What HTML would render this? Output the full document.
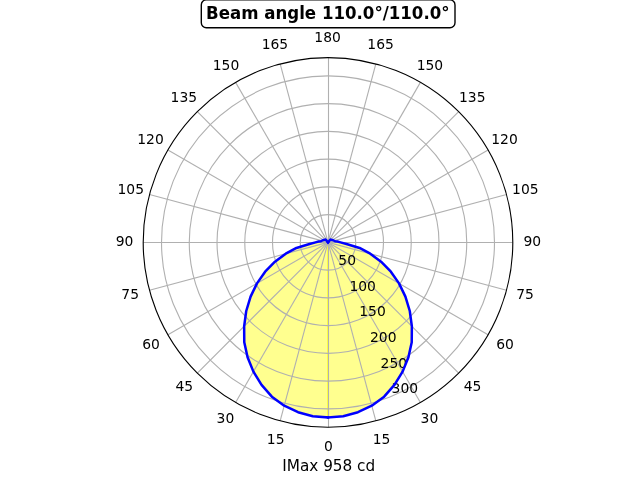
<!DOCTYPE html>
<html lang="en"><head><meta charset="utf-8"><title>Beam angle polar plot</title>
<style>
html,body{margin:0;padding:0;background:#fff}
body{width:640px;height:480px;overflow:hidden}
svg{display:block}
text{font-family:"DejaVu Sans","Liberation Sans",sans-serif;fill:#000}
.t{font-size:13.889px}
.g{fill:none;stroke:#b0b0b0;stroke-width:1.111}
</style></head><body>
<svg width="640" height="480" viewBox="0 0 640 480">
<rect width="640" height="480" fill="#fff"/>
<polygon points="328,417.51 343.2,416.18 357.95,412.23 371.76,405.72 384.14,396.65 394.45,384.9 402.6,371.61 408.43,357.27 411.73,342.19 411.85,326.25 409.77,311.01 405.41,296.61 399.01,283.4 390.87,271.72 381.06,261.71 370.25,253.72 359.57,247.97 346.48,244.02 340.46,242.4 337.38,241.58 334.98,241.17 334.15,240.75 333.46,240.41 332.82,240.15 332.22,239.96 331.63,239.86 331.18,239.73 330.74,239.66 330.38,239.56 328,242.4 325.62,239.56 325.26,239.66 324.82,239.73 324.37,239.86 323.78,239.96 323.18,240.15 322.54,240.41 321.85,240.75 321.02,241.17 318.62,241.58 315.54,242.4 309.52,244.02 296.43,247.97 285.75,253.72 274.94,261.71 265.13,271.72 256.99,283.4 250.59,296.61 246.23,311.01 244.15,326.25 244.27,342.19 247.57,357.27 253.4,371.61 261.55,384.9 271.86,396.65 284.24,405.72 298.05,412.23 312.8,416.18" fill="#ffff8f" stroke="#ffff8f" stroke-width="1" stroke-linejoin="round"/>
<line x1="327.75" y1="242.4" x2="327.75" y2="417.51" stroke="#ffff38" stroke-width="1.4"/>
<g class="g">
<line x1="328.5" y1="242.4" x2="328.5" y2="427.2"/>
<line x1="328" y1="242.4" x2="375.83" y2="420.9"/>
<line x1="328" y1="242.4" x2="420.4" y2="402.44"/>
<line x1="328" y1="242.4" x2="458.67" y2="373.07"/>
<line x1="328" y1="242.4" x2="488.04" y2="334.8"/>
<line x1="328" y1="242.4" x2="506.5" y2="290.23"/>
<line x1="328" y1="242.5" x2="512.8" y2="242.5"/>
<line x1="328" y1="242.4" x2="506.5" y2="194.57"/>
<line x1="328" y1="242.4" x2="488.04" y2="150"/>
<line x1="328" y1="242.4" x2="458.67" y2="111.73"/>
<line x1="328" y1="242.4" x2="420.4" y2="82.36"/>
<line x1="328" y1="242.4" x2="375.83" y2="63.9"/>
<line x1="328.5" y1="242.4" x2="328.5" y2="57.6"/>
<line x1="328" y1="242.4" x2="280.17" y2="63.9"/>
<line x1="328" y1="242.4" x2="235.6" y2="82.36"/>
<line x1="328" y1="242.4" x2="197.33" y2="111.73"/>
<line x1="328" y1="242.4" x2="167.96" y2="150"/>
<line x1="328" y1="242.4" x2="149.5" y2="194.57"/>
<line x1="328" y1="242.5" x2="143.2" y2="242.5"/>
<line x1="328" y1="242.4" x2="149.5" y2="290.23"/>
<line x1="328" y1="242.4" x2="167.96" y2="334.8"/>
<line x1="328" y1="242.4" x2="197.33" y2="373.07"/>
<line x1="328" y1="242.4" x2="235.6" y2="402.44"/>
<line x1="328" y1="242.4" x2="280.17" y2="420.9"/>
<circle cx="328" cy="242.4" r="27.75"/>
<circle cx="328" cy="242.4" r="55.5"/>
<circle cx="328" cy="242.4" r="83.24"/>
<circle cx="328" cy="242.4" r="110.99"/>
<circle cx="328" cy="242.4" r="138.74"/>
<circle cx="328" cy="242.4" r="166.49"/>
</g>
<g class="t" text-anchor="middle">
<text x="328.52" y="451.48">0</text>
<text x="381.6" y="443.52">15</text>
<text x="275.67" y="443.52">15</text>
<text x="429.44" y="423.11">30</text>
<text x="225.44" y="423.11">30</text>
<text x="472.55" y="390.66">45</text>
<text x="184.29" y="390.66">45</text>
<text x="505.01" y="349.35">60</text>
<text x="151.09" y="349.35">60</text>
<text x="525.11" y="299.09">75</text>
<text x="130.18" y="299.09">75</text>
<text x="532.34" y="246.23">90</text>
<text x="124.51" y="246.23">90</text>
<text x="525.31" y="194.37">105</text>
<text x="130.74" y="194.37">105</text>
<text x="504.51" y="144.11">120</text>
<text x="150.53" y="144.11">120</text>
<text x="472.3" y="101.81">135</text>
<text x="183.81" y="101.81">135</text>
<text x="429.95" y="70.35">150</text>
<text x="226" y="70.35">150</text>
<text x="380.56" y="48.95">165</text>
<text x="274.89" y="48.95">165</text>
<text x="327.56" y="41.99">180</text>
</g>
<g class="t">
<text x="338.35" y="265.09">50</text>
<text x="349.44" y="290.66">100</text>
<text x="359.24" y="316.23">150</text>
<text x="370.02" y="341.81">200</text>
<text x="380.58" y="368.38">250</text>
<text x="391.59" y="392.96">300</text>
</g>
<polyline points="328,417.51 343.2,416.18 357.95,412.23 371.76,405.72 384.14,396.65 394.45,384.9 402.6,371.61 408.43,357.27 411.73,342.19 411.85,326.25 409.77,311.01 405.41,296.61 399.01,283.4 390.87,271.72 381.06,261.71 370.25,253.72 359.57,247.97 346.48,244.02 340.46,242.4 337.38,241.58 334.98,241.17 334.15,240.75 333.46,240.41 332.82,240.15 332.22,239.96 331.63,239.86 331.18,239.73 330.74,239.66 330.38,239.56 328,242.4" fill="none" stroke="#0000ff" stroke-width="2.5" stroke-linejoin="round" stroke-linecap="square"/>
<polyline points="328,417.51 312.8,416.18 298.05,412.23 284.24,405.72 271.86,396.65 261.55,384.9 253.4,371.61 247.57,357.27 244.27,342.19 244.15,326.25 246.23,311.01 250.59,296.61 256.99,283.4 265.13,271.72 274.94,261.71 285.75,253.72 296.43,247.97 309.52,244.02 315.54,242.4 318.62,241.58 321.02,241.17 321.85,240.75 322.54,240.41 323.18,240.15 323.78,239.96 324.37,239.86 324.82,239.73 325.26,239.66 325.62,239.56 328,242.4" fill="none" stroke="#0000ff" stroke-width="2.5" stroke-linejoin="round" stroke-linecap="square"/>
<circle cx="328" cy="242.4" r="184.8" fill="none" stroke="#000" stroke-width="1.111"/>
<text x="328.72" y="470.53" text-anchor="middle" font-size="15.278">IMax 958 cd</text>
<rect x="201.3" y="-0.1" width="253.7" height="27.9" rx="5" ry="5" fill="#fff" stroke="#000" stroke-width="1.389"/>
<text transform="translate(327.8,19) scale(0.997,1.07)" text-anchor="middle" font-size="16.667" font-weight="700">Beam angle 110.0°/110.0°</text>
</svg>
</body></html>
